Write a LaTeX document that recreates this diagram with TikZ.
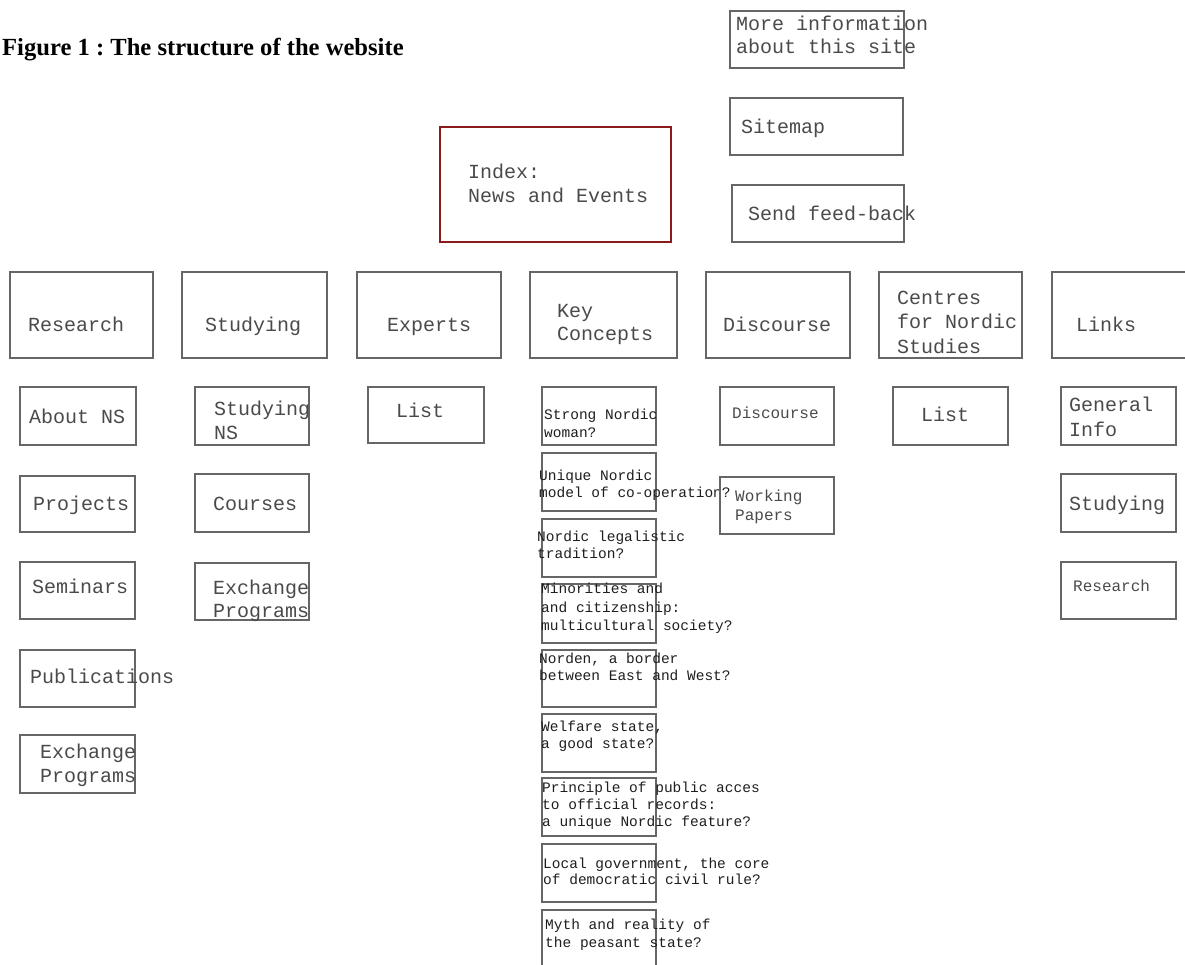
\documentclass[tikz,border=0pt]{standalone}
\usepackage{fontspec}
\setmainfont{Liberation Serif}
\setmonofont{Liberation Mono}
\frenchspacing
\definecolor{boxline}{HTML}{666666}
\definecolor{boxtext}{HTML}{4A4A4A}
\definecolor{kctext}{HTML}{1E1E1E}
\definecolor{indexred}{HTML}{8B1A1A}
\newcommand\mkbox[6][box]{\node[#1, minimum width={#5-#3}, minimum height={#6-#4}] (#2) at ({(#3+#5)/2},{(#4+#6)/2}) {};}
\newcommand\tx[5][lbl]{\node[#1] (#2) at (#3,#4) {#5};}
\begin{document}
\begin{tikzpicture}[x=1pt,y=-1pt,
  box/.style={draw=boxline, line width=2.5pt, inner sep=0pt, outer sep=0pt},
  redbox/.style={draw=indexred, line width=2.7pt, inner sep=0pt, outer sep=0pt},
  lbl/.style={anchor=base west, inner sep=0pt, text=boxtext, font=\ttfamily\fontsize{20}{24}\selectfont},
  lblm/.style={anchor=base west, inner sep=0pt, text=boxtext, font=\ttfamily\fontsize{16}{19}\selectfont},
  lbls/.style={anchor=base west, inner sep=0pt, text=kctext, font=\ttfamily\fontsize{14.5}{18}\selectfont},
  titlestyle/.style={anchor=base west, inner sep=0pt, font=\bfseries\fontsize{24.6}{28}\selectfont}]
\useasboundingbox (0,0) rectangle (1185,965);

% title
\node[titlestyle] (title) at (2,56) {Figure 1 : The structure of the website};

% top right boxes
\mkbox{info}{730}{11}{904}{68}
\tx{info1}{736}{31}{More information}
\tx{info2}{736}{54}{about this site}
\mkbox{sitemap}{730}{98}{903}{155}
\tx{sitemapt}{741}{134}{Sitemap}
\mkbox{feedback}{732}{185}{904}{242}
\tx{feedbackt}{748}{221}{Send feed-back}

% index
\mkbox[redbox]{index}{440}{127}{671}{242}
\tx{index1}{468}{179}{Index:}
\tx{index2}{468}{203}{News and Events}

% top row
\mkbox{research}{10}{272}{153}{358}
\tx{researcht}{28}{331}{Research}
\mkbox{studying}{182}{272}{327}{358}
\tx{studyingt}{205}{331}{Studying}
\mkbox{experts}{357}{272}{501}{358}
\tx{expertst}{387}{331}{Experts}
\mkbox{keyc}{530}{272}{677}{358}
\tx{keyc1}{557}{317}{Key}
\tx{keyc2}{557}{341}{Concepts}
\mkbox{discourse}{706}{272}{850}{358}
\tx{discourset}{723}{331}{Discourse}
\mkbox{centres}{879}{272}{1022}{358}
\tx{centres1}{897}{305}{Centres}
\tx{centres2}{897}{329}{for Nordic}
\tx{centres3}{897}{353}{Studies}
\mkbox{links}{1052}{272}{1200}{358}
\tx{linkst}{1076}{331}{Links}

% research column
\mkbox{about}{20}{387}{136}{445}
\tx{aboutt}{29}{423}{About NS}
\mkbox{projects}{20}{476}{135}{532}
\tx{projectst}{33}{510}{Projects}
\mkbox{seminars}{20}{562}{135}{619}
\tx{seminarst}{32}{593}{Seminars}
\mkbox{publications}{20}{650}{135}{707}
\tx{publicationst}{30}{683}{Publications}
\mkbox{exchangeA}{20}{735}{135}{793}
\tx{exchangeA1}{40}{758}{Exchange}
\tx{exchangeA2}{40}{782}{Programs}

% studying column
\mkbox{studyingns}{195}{387}{309}{445}
\tx{studyingns1}{214}{415}{Studying}
\tx{studyingns2}{214}{439}{NS}
\mkbox{courses}{195}{474}{309}{532}
\tx{coursest}{213}{510}{Courses}
\mkbox{exchangeB}{195}{563}{309}{620}
\tx{exchangeB1}{213}{594}{Exchange}
\tx{exchangeB2}{213}{617}{Programs}

% experts column
\mkbox{explist}{368}{387}{484}{443}
\tx{explistt}{396}{417}{List}

% key concepts column
\mkbox{kA}{542}{387}{656}{445}
\tx[lbls]{kA1}{544}{419}{Strong Nordic}
\tx[lbls]{kA2}{544}{437}{woman?}
\mkbox{kB}{542}{453}{656}{511}
\tx[lbls]{kB1}{539}{480}{Unique Nordic}
\tx[lbls]{kB2}{539}{497}{model of co-operation?}
\mkbox{kC}{542}{519}{656}{577}
\tx[lbls]{kC1}{537}{541}{Nordic legalistic}
\tx[lbls]{kC2}{537}{558}{tradition?}
\mkbox{kD}{542}{584}{656}{643}
\tx[lbls]{kD1}{541}{593}{Minorities and}
\tx[lbls]{kD2}{541}{612}{and citizenship:}
\tx[lbls]{kD3}{541}{630}{multicultural society?}
\mkbox{kE}{542}{650}{656}{707}
\tx[lbls]{kE1}{539}{663}{Norden, a border}
\tx[lbls]{kE2}{539}{680}{between East and West?}
\mkbox{kF}{542}{714}{656}{772}
\tx[lbls]{kF1}{541}{731}{Welfare state,}
\tx[lbls]{kF2}{541}{748}{a good state?}
\mkbox{kG}{542}{778}{656}{836}
\tx[lbls]{kG1}{542}{792}{Principle of public acces}
\tx[lbls]{kG2}{542}{809}{to official records:}
\tx[lbls]{kG3}{542}{826}{a unique Nordic feature?}
\mkbox{kH}{542}{844}{656}{902}
\tx[lbls]{kH1}{543}{868}{Local government, the core}
\tx[lbls]{kH2}{543}{884}{of democratic civil rule?}
\mkbox{kI}{542}{910}{656}{985}
\tx[lbls]{kI1}{545}{929}{Myth and reality of}
\tx[lbls]{kI2}{545}{947}{the peasant state?}

% discourse column
\mkbox{discsub}{720}{387}{834}{445}
\tx[lblm]{discsubt}{732}{418}{Discourse}
\mkbox{working}{720}{477}{834}{534}
\tx[lblm]{working1}{735}{501}{Working}
\tx[lblm]{working2}{735}{520}{Papers}

% centres column
\mkbox{centlist}{893}{387}{1008}{445}
\tx{centlistt}{921}{421}{List}

% links column
\mkbox{general}{1061}{387}{1176}{445}
\tx{general1}{1069}{411}{General}
\tx{general2}{1069}{436}{Info}
\mkbox{linkstudy}{1061}{474}{1176}{532}
\tx{linkstudyt}{1069}{510}{Studying}
\mkbox{linkres}{1061}{562}{1176}{619}
\tx[lblm]{linkrest}{1073}{591}{Research}
\end{tikzpicture}
\end{document}
